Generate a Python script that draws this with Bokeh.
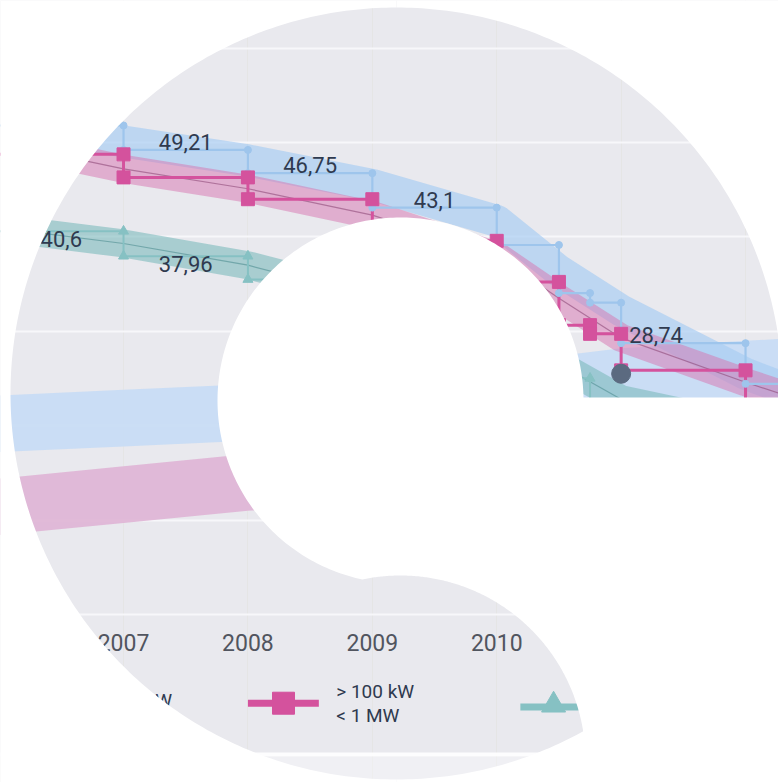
import numpy as np
from bokeh.plotting import figure
from bokeh.models import Range1d, Grid, FixedTicker
from bokeh.core.properties import value
from bokeh.embed import file_html
from bokeh.resources import INLINE

# Einspeisevergütung für Solarstrom in ct/kWh, jeweils ab Stichtag
dates = [2006, 2007, 2008, 2009, 2010, 2010.5, 2010.75, 2011, 2012]
small_roof = [51.80, 49.21, 46.75, 43.1, 39.14, 34.05, 33.03, 28.74, 24.43]   # < 30 kW
large_roof = [48.74, 46.30, 43.99, 39.58, 35.23, 30.65, 29.73, 25.86, 21.98]  # > 100 kW < 1 MW
open_field = [40.6, 37.96, 35.49, 31.94, 28.43, 25.02, 22.07, 21.11, 18.76]   # Freiflächen

# geglättete Trendbänder
trend_dates = [2006.1, 2007, 2008, 2009, 2010, 2010.5, 2011, 2012, 2012.3]
small_trend = [52.1, 50.1, 48.1, 45.5, 41.7, 36.4, 32.2, 25.5, 24.0]
large_trend = [49.7, 47.2, 45.1, 42.3, 38.0, 33.5, 29.3, 24.6, 23.3]
field_trend = [40.8, 39.3, 37.0, 33.6, 30.0, 26.5, 22.8, 20.0, 19.3]

# Strompreise
price_years = [2006, 2007, 2008, 2009, 2010, 2011, 2012, 2012.3]
household_price = [20.2, 20.8, 21.4, 22.6, 23.6, 25.2, 26.0, 26.2]
industry_price = [11.4, 12.7, 14.0, 14.8, 15.0, 15.6, 16.2, 16.4]

parity_year = [2011]
parity_value = [25.5]

tick_years = [2007, 2008, 2009, 2010]

# Wertebeschriftungen (Index in dates)
small_labels = [1, 2, 3]
small_label_right = 7
field_labels = [0, 1]

W, H = 778, 782
X0, X1 = 2006.011, 2012.265
Y0, Y1 = -17.80, 65.04

BG = "#e9e9ee"
BLUE = "#9ec5ec"
PINK = "#d4529d"
TEAL = "#86c1c3"
TXT = "#2f3a4f"
FONT = value("Roboto")

p = figure(width=W, height=H, x_range=Range1d(X0, X1), y_range=Range1d(Y0, Y1),
           output_backend="svg", toolbar_location=None, min_border=0,
           x_axis_location=None, y_axis_location=None,
           background_fill_color=BG, border_fill_color="white",
           outline_line_color=None)

p.add_layout(Grid(dimension=1, ticker=FixedTicker(ticks=[0, 10, 20, 30, 40, 50, 60]),
                  grid_line_color="#f7f7fa", grid_line_width=2))

half = 3.0
p.varea(x=price_years, y1=[v - half for v in household_price],
        y2=[v + half for v in household_price], fill_color="#c8dcf4", fill_alpha=0.95)
p.varea(x=price_years, y1=[v - half for v in industry_price],
        y2=[v + half for v in industry_price], fill_color="#dfb6d6", fill_alpha=0.95)

# Trendbänder
p.line(trend_dates, field_trend, line_color="#7dbbbd", line_alpha=0.6, line_width=28,
       line_join="round")
p.line(trend_dates, field_trend, line_color="#4f8d91", line_alpha=0.6, line_width=1.2)
p.line(trend_dates, small_trend, line_color="#a9cdf2", line_alpha=0.7, line_width=32,
       line_join="round")
p.line(trend_dates, large_trend, line_color="#d874b0", line_alpha=0.5, line_width=28,
       line_join="round")
p.line(trend_dates, large_trend, line_color="#8e4a78", line_alpha=0.6, line_width=1.2)


def step_vertices(xs, ys):
    vx, vy = [], []
    for i in range(1, len(xs)):
        vx += [xs[i], xs[i]]
        vy += [ys[i - 1], ys[i]]
    return vx, vy


for vals, col, lw in [(open_field, TEAL, 2), (small_roof, BLUE, 2.2), (large_roof, PINK, 3)]:
    p.step(dates + [X1 + 0.1], vals + [vals[-1]], mode="after", line_color=col, line_width=lw)

vx, vy = step_vertices(dates, open_field)
p.scatter(vx, vy, marker="triangle", size=10, fill_color=TEAL, line_color=TEAL)
vx, vy = step_vertices(dates, small_roof)
p.scatter(vx, vy, marker="circle", size=7, fill_color=BLUE, line_color=BLUE)
vx, vy = step_vertices(dates, large_roof)
p.scatter(vx, vy, marker="square", size=13, fill_color=PINK, line_color=PINK)

p.scatter(parity_year, parity_value, marker="circle", size=19,
          fill_color="#5b6a80", line_color="#5b6a80")


def fmt(v):
    return f"{v:g}".replace(".", ",")


mid = lambda i: (dates[i] + dates[i + 1]) / 2
p.text([mid(i) for i in small_labels], [small_roof[i] for i in small_labels],
       text=[fmt(small_roof[i]) for i in small_labels], text_font=FONT,
       text_font_size="22px", text_color=TXT, text_align="center", text_baseline="bottom")
p.text([dates[small_label_right]], [small_roof[small_label_right]],
       text=[fmt(small_roof[small_label_right])], x_offset=8, text_font=FONT,
       text_font_size="22px", text_color=TXT, text_align="left", text_baseline="bottom")
p.text([mid(i) for i in field_labels], [open_field[i] for i in field_labels],
       text=[fmt(open_field[i]) for i in field_labels], text_font=FONT,
       text_font_size="22px", text_color=TXT, text_align="center", text_baseline="top")

# Jahresachse
p.text(tick_years, [-3.0] * len(tick_years), text=[str(y) for y in tick_years],
       text_font=FONT, text_font_size="23px", text_color="#51555f",
       text_align="center", text_baseline="middle")

# Legende
LY = -9.4
p.text([2007.39], [LY + 0.3], text=["< 30 kW"], text_font=FONT, text_font_size="19px",
       text_color=TXT, text_align="right", text_baseline="middle")
p.line([2008.0, 2008.57], [LY, LY], line_color=PINK, line_width=7)
p.scatter([2008.286], [LY], marker="square", size=22, fill_color=PINK, line_color=PINK)
p.text([2008.71, 2008.71], [LY + 1.2, LY - 1.35], text=["> 100 kW", "< 1 MW"],
       text_font=FONT, text_font_size="19px", text_color=TXT,
       text_align="left", text_baseline="middle")
p.line([2010.19, 2010.66], [LY - 0.4, LY - 0.4], line_color=TEAL, line_width=7)
p.scatter([2010.457], [LY - 0.2], marker="triangle", size=24, fill_color=TEAL, line_color=TEAL)


# Freistellung der Form; Umrisse in Pixeln (von oben links), auf Achsenwerte umgerechnet
def arc(cx, cy, r, a0, a1, n=240):
    t = np.linspace(a0, a1, n)
    return list(cx + r * np.cos(t)), list(cy + r * np.sin(t))


def to_x(px):
    return [X0 + v / W * (X1 - X0) for v in px]


def to_y(py):
    return [Y1 - v / H * (Y1 - Y0) for v in py]


def mask(xs, ys, alpha=1.0):
    p.patch(to_x(xs), to_y(ys), fill_color="white", fill_alpha=alpha, line_color=None)


E = 20
# heller Streifen unten
mask([-E, W + E, W + E, -E], [752, 752, 756, 756], 0.9)
mask([-E, W + E, W + E, -E], [756, 756, H + E, H + E], 0.35)

ocx, ocy, orr = 396.0, 393.0, 386.0
ax, ay = arc(ocx, ocy, orr, -np.pi / 2, -3 * np.pi / 2)
mask([-E, ocx, ocx] + ax + [ocx, ocx, -E], [-E, -E, 0] + ay + [H, H + E, H + E])
ax, ay = arc(ocx, ocy, orr, np.pi / 2, -np.pi / 2)
mask([ocx, ocx, W + E, W + E, ocx, ocx] + ax,
     [ocy - orr, -E, -E, H + E, H + E, ocy + orr] + ay)

icx, icy, ir = 400.0, 400.0, 183.0
lcx, lcy, lr = 400.0, 760.0, 185.0
cut_y, bottom_y = 397.0, 752.0
yi = ((icy ** 2 - lcy ** 2) - (ir ** 2 - lr ** 2)) / (2 * (icy - lcy))
xi = icx - np.sqrt(ir ** 2 - (yi - icy) ** 2)
a_start = np.arctan2(cut_y - icy, np.sqrt(ir ** 2 - (cut_y - icy) ** 2))
a_end = np.arctan2(yi - icy, xi - icx) - 2 * np.pi
ix, iy = arc(icx, icy, ir, a_start, a_end)
xb = lcx + np.sqrt(lr ** 2 - (bottom_y - lcy) ** 2)
lx, ly = arc(lcx, lcy, lr, np.arctan2(yi - lcy, xi - lcx), np.arctan2(bottom_y - lcy, xb - lcx))
mask([W + E] + ix + lx + [xb, xb, W + E], [cut_y] + iy + ly + [bottom_y, H + E, H + E])

open("out.html", "w").write(file_html(p, INLINE))
